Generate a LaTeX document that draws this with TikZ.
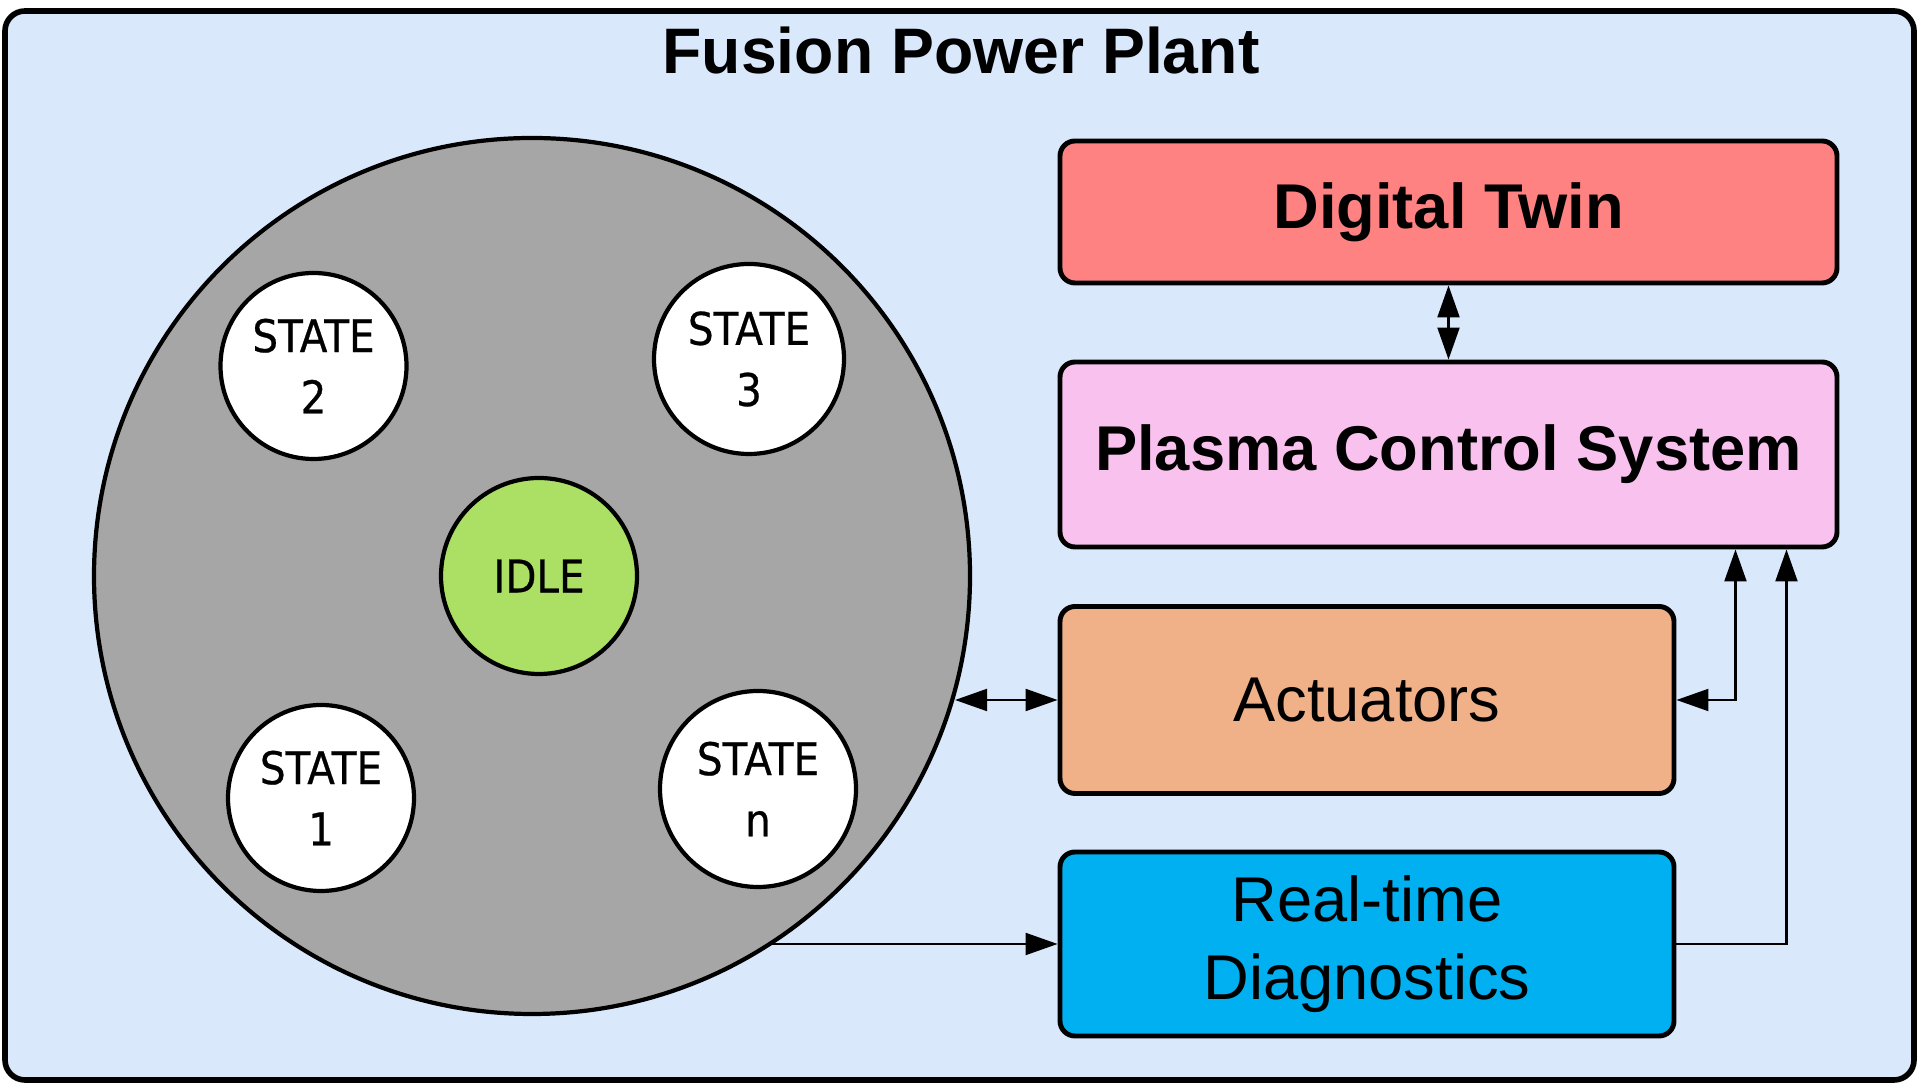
\documentclass[tikz,border=0pt]{standalone}
\usepackage{fontspec}
\setmainfont{Liberation Sans}
\newfontfamily\statefont[FakeStretch=0.9, FakeBold=0.6]{DejaVu Sans}
\usetikzlibrary{arrows.meta,calc}

\definecolor{plantbg}{HTML}{DAE8FC}
\definecolor{plantgray}{HTML}{A6A6A6}
\definecolor{idlegreen}{HTML}{ACE064}
\definecolor{twinred}{HTML}{FF8282}
\definecolor{pcspink}{HTML}{F9C1EE}
\definecolor{actorange}{HTML}{F0B088}
\definecolor{rtdblue}{HTML}{00B0F0}

\begin{document}
\begin{tikzpicture}[
  font=\fontsize{18}{22}\selectfont,
  box/.style   = {draw=black, line width=1.4pt, rounded corners=0.15cm,
                  inner sep=0pt, align=center},
  bold/.style  = {font=\fontsize{18}{22}\selectfont\bfseries},
  state/.style = {circle, draw=black, line width=1.2pt, fill=white, inner sep=0pt,
                  minimum size=1.86cm, align=center,
                  font=\statefont\fontsize{12.8}{17.4}\selectfont},
  link/.style  = {line width=0.6pt, -{Triangle[length=0.32cm, width=0.22cm]}},
  both/.style  = {line width=0.6pt, {Triangle[length=0.32cm, width=0.22cm]}-{Triangle[length=0.32cm, width=0.22cm]}},
]

\def\colsm{5.32}     % column x: state machine
\def\colwide{14.485} % column x: wide boxes
\def\colnar{13.67}   % column x: narrow boxes

\useasboundingbox (0,0) rectangle (19.20,10.86);
\fill[white] (0,0) rectangle (19.20,10.86);

% ---- plant frame -----------------------------------------------------------
\draw[fill=plantbg, line width=1.6pt, rounded corners=0.2cm]
  (0.05,0.06) rectangle (19.14,10.75);
\node[font=\fontsize{18.3}{22}\selectfont\bfseries] (title) at (9.61,10.35) {Fusion Power Plant};

% ---- state machine ---------------------------------------------------------
\node[circle, draw=black, line width=1.2pt, fill=plantgray, inner sep=0pt,
      minimum size=8.76cm] (plant) at (\colsm,5.10) {};

\node[state] (stwo)   at (3.135,7.20) {STATE\\2};
\node[state, minimum size=1.90cm] (sthree) at (7.49,7.27) {STATE\\3};
\node[state, fill=idlegreen, minimum size=1.96cm] (idle) at (5.39,5.10) {IDLE};
\node[state] (sone)   at (3.21,2.88) {STATE\\1};
\node[state, minimum size=1.96cm] (sn) at (7.58,2.97) {STATE\\n};

% ---- control chain ---------------------------------------------------------
\node[box, bold, fill=twinred, minimum width=7.77cm, minimum height=1.42cm]
  (dtwin) at (\colwide,8.74) {Digital Twin};
\node[box, bold, fill=pcspink, minimum width=7.77cm, minimum height=1.85cm]
  (pcs) at (\colwide,6.315) {Plasma Control System};
\node[box, fill=actorange, minimum width=6.14cm, minimum height=1.87cm]
  (act) at (\colnar,3.86) {Actuators};
\node[box, fill=rtdblue, minimum width=6.14cm, minimum height=1.84cm]
  (rtd) at (\colnar,1.42) {Real-time\\Diagnostics};

% ---- connectors ------------------------------------------------------------
\coordinate (pcsinA) at ($(pcs.south east)+(-1.04,0)$);
\coordinate (pcsinB) at ($(pcs.south east)+(-0.53,0)$);

\draw[both] (dtwin.south) -- (pcs.north);
\draw[both] (act.west -| plant.-16.45) -- (act.west);
\draw[link] (rtd.west -| plant.-57.1) -- (rtd.west);
\draw[both] (act.east) -| (pcsinA);
\draw[link] (rtd.east) -| (pcsinB);

\end{tikzpicture}
\end{document}
